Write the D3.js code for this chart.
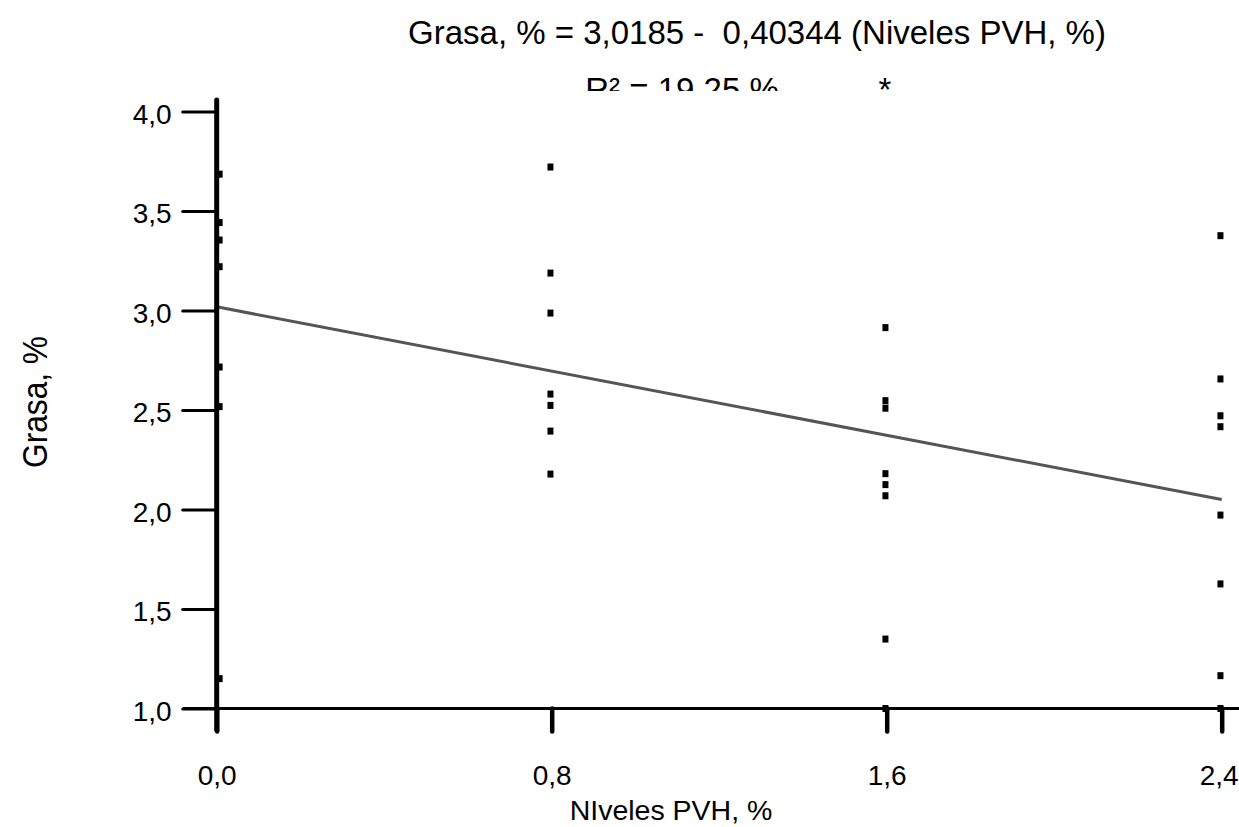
<!DOCTYPE html>
<html><head><meta charset="utf-8">
<script src="https://cdn.jsdelivr.net/npm/d3@7"></script>
<style>body{margin:0;background:#fff}svg{display:block}text{font-family:"Liberation Sans",Arial,sans-serif;white-space:pre}</style>
</head><body><svg id="c" width="1239" height="827"></svg>
<script>
const title1 = "Grasa, % = 3,0185 -  0,40344 (Niveles PVH, %)";
const title2 = "R² = 19,25 %";
const xTitle = "NIveles PVH, %";
const yTitle = "Grasa, %";
const xTicks = [0, 0.8, 1.6, 2.4];
const yTicks = [1.0, 1.5, 2.0, 2.5, 3.0, 3.5, 4.0];
const intercept = 3.0185, slope = -0.40344;
const lineX = [0, 2.4];
// observed points (x level, fat %)
const level0 = [3.685, 3.442, 3.354, 3.22, 2.716, 2.517, 1.15];
const level08 = [3.721, 3.188, 2.987, 2.580, 2.523, 2.394, 2.178];
const level16 = [2.914, 2.547, 2.509, 2.180, 2.125, 2.069, 1.349, 1.0];
const level24 = [3.376, 2.656, 2.471, 2.416, 1.972, 1.626, 1.165, 1.0];
const levelX = [0.007, 0.797, 1.597, 2.397];

const points = [];
[level0, level08, level16, level24].forEach((arr, i) => arr.forEach(v => points.push({x: levelX[i], y: v})));

const svg = d3.select("#c");
const x = d3.scaleLinear().domain([0, 2.4]).range([216.7, 1221.7]);
const y = d3.scaleLinear().domain([1, 4]).range([708.5, 111.5]);
const loc = d3.formatLocale({decimal: ",", thousands: ".", grouping: [3], currency: ["", ""]});
const f1 = loc.format(".1f");
const FF = '"Liberation Sans",Arial,sans-serif';

// titles
svg.append("text").attr("x", 757).attr("y", 44).attr("text-anchor", "middle")
  .attr("font-size", 33).text(title1);
const clip = svg.append("clipPath").attr("id", "tclip");
clip.append("rect").attr("x", 0).attr("y", 0).attr("width", 1239).attr("height", 91);
const g2 = svg.append("g").attr("clip-path", "url(#tclip)");
g2.append("text").attr("x", 682).attr("y", 101).attr("text-anchor", "middle")
  .attr("font-size", 33).text(title2);
g2.append("text").attr("x", 885).attr("y", 101).attr("text-anchor", "middle")
  .attr("font-size", 33).text("*");

// y axis ticks
const yAxis = d3.axisLeft(y).tickValues(yTicks).tickFormat(f1).tickSize(34).tickPadding(11);
const gy = svg.append("g").attr("transform", "translate(216.7,0)").call(yAxis);
gy.select(".domain").remove();
gy.selectAll(".tick line").attr("stroke", "#000").attr("stroke-width", 3).attr("stroke-linecap", "round");
gy.selectAll(".tick text").attr("font-size", 28).attr("fill", "#000").attr("dy", "0.42em")
  .style("font-family", FF);

// x axis
const xAxis = d3.axisBottom(x).tickValues(xTicks).tickFormat(f1).tickSize(23).tickPadding(34);
const gx = svg.append("g").attr("transform", "translate(0,708.5)").call(xAxis);
gx.select(".domain").remove();
gx.selectAll(".tick line").attr("stroke", "#000").attr("stroke-width", 4.5).attr("stroke-linecap", "round");
gx.selectAll(".tick text").attr("font-size", 28).attr("fill", "#000")
  .style("font-family", FF)
  .attr("dx", d => d === 2.4 ? -3 : 0);

svg.append("line").attr("x1", 183).attr("x2", 1239).attr("y1", 708.5).attr("y2", 708.5)
  .attr("stroke", "#000").attr("stroke-width", 3);

// regression line
svg.append("path").datum(lineX)
  .attr("d", d3.line().x(d => x(d)).y(d => y(intercept + slope * d)))
  .attr("stroke", "#555").attr("stroke-width", 3).attr("fill", "none");

// points
svg.append("g").selectAll("rect").data(points).join("rect")
  .attr("x", d => x(d.x) - 3).attr("y", d => y(d.y) - 3.5)
  .attr("width", 6).attr("height", 7).attr("fill", "#000");

// y axis line
svg.append("line").attr("x1", 216.7).attr("x2", 216.7).attr("y1", 100).attr("y2", 730)
  .attr("stroke", "#000").attr("stroke-width", 5).attr("stroke-linecap", "round");

// axis titles
svg.append("text").attr("x", 671).attr("y", 820).attr("text-anchor", "middle")
  .attr("font-size", 28.5).text(xTitle);
svg.append("text").attr("transform", "translate(47,402) rotate(-90) scale(0.88,1)")
  .attr("text-anchor", "middle").attr("font-size", 36).text(yTitle);
</script></body></html>
